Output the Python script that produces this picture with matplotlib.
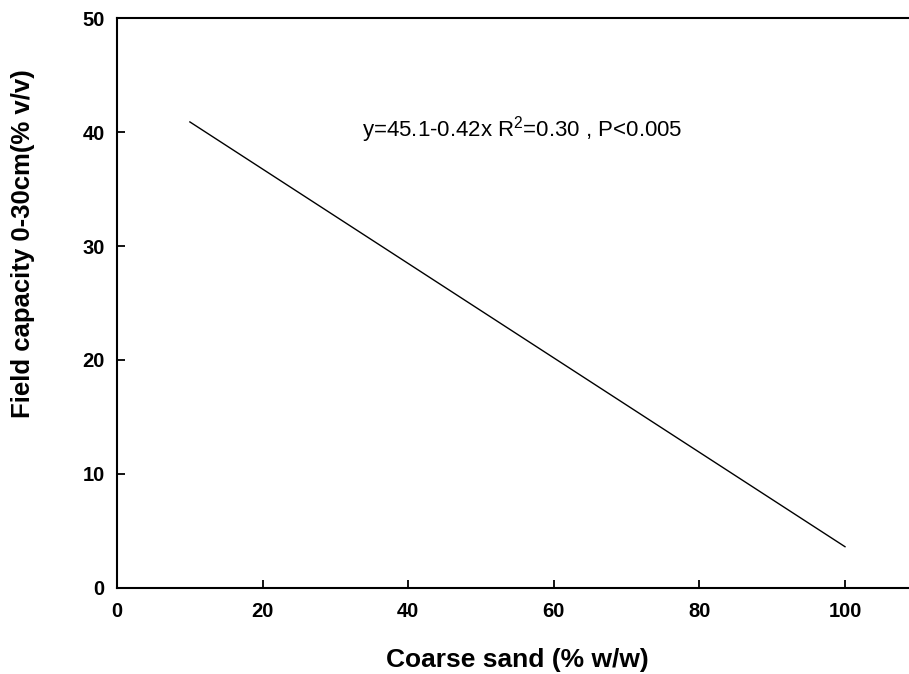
import matplotlib
matplotlib.use('Agg')
import matplotlib.pyplot as plt

# Regression line
sand = [10, 100]
field_capacity = [40.9, 3.6]
x_ticks = [0, 20, 40, 60, 80, 100]
y_ticks = [0, 10, 20, 30, 40, 50]
equation = 'y=45.1-0.42x R$^2$=0.30 , P<0.005'

plt.rcParams['font.family'] = ['Liberation Sans', 'DejaVu Sans']
plt.rcParams['mathtext.fontset'] = 'custom'
plt.rcParams['mathtext.rm'] = 'Liberation Sans'

fig = plt.figure(figsize=(9.09, 6.74), dpi=100)
ax = fig.add_axes([117.1 / 909, 1 - 587.7 / 674, 1 - 117.1 / 909, (587.7 - 18.3) / 674])

ax.plot(sand, field_capacity, color='black', linewidth=1.0)

ax.set_xlim(0, (909 - 117.1) / 7.279)
ax.set_ylim(0, 50)
ax.set_xticks(x_ticks)
ax.set_yticks(y_ticks)
ax.tick_params(direction='in', length=6, width=1.3, labelsize=14.5)
ax.tick_params(axis='x', pad=10)
ax.tick_params(axis='y', pad=9)
for lbl in ax.get_xticklabels() + ax.get_yticklabels():
    lbl.set_fontweight('bold')
ax.spines['right'].set_visible(False)
for s in ['left', 'bottom', 'top']:
    ax.spines[s].set_linewidth(1.5)

ax.set_xlabel('Coarse sand (% w/w)', fontsize=19, fontweight='bold')
ax.set_ylabel('Field capacity 0-30cm(% v/v)', fontsize=18.5, fontweight='bold')
ax.xaxis.set_label_coords((0.5 * (383 + 652) - 117.1) / 791.9, -0.106)
ax.yaxis.set_label_coords(-0.1037, 0.605)

ax.text(33.7, 39.6, equation, fontsize=16)

fig.savefig('out.png', dpi=100)
